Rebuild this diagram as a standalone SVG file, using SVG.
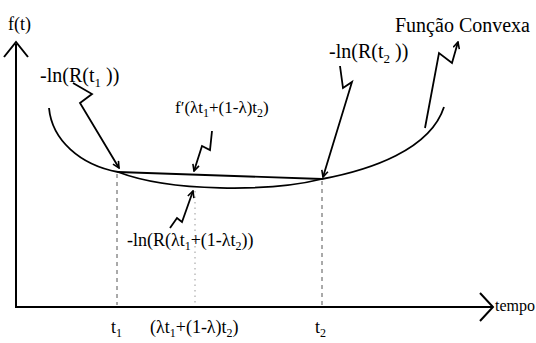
<svg xmlns="http://www.w3.org/2000/svg" width="536" height="343" viewBox="0 0 536 343">
  <defs>
    <marker id="ah" viewBox="0 0 10 10" refX="9" refY="5" markerWidth="8" markerHeight="8" orient="auto" markerUnits="userSpaceOnUse">
      <path d="M1,1 L9,5 L1,9" fill="none" stroke="#000" stroke-width="2"/>
    </marker>
  </defs>
  <style>
    .txt { font-family: "Liberation Serif", "Times New Roman", serif; fill: #000; }
    .ln { fill: none; stroke: #000; stroke-width: 1.8; stroke-linejoin: miter; }
    .axis { fill: none; stroke: #000; stroke-width: 2; }
    .dash { fill: none; stroke: #555; stroke-width: 1; stroke-dasharray: 4 4; }
    .dot { fill: none; stroke: #999; stroke-width: 1; stroke-dasharray: 1.5 4; }
  </style>
  <rect width="536" height="343" fill="#fff"/>

  <g id="axes">
    <path class="axis" d="M16,44 V307 H492"/>
    <path class="axis" d="M4,57 L16,42 L28,57"/>
    <path class="axis" d="M480,293 L493,307 L480,321"/>
    <text class="txt" x="8" y="30" font-size="18">f(t)</text>
    <text class="txt" x="495" y="311" font-size="16">tempo</text>
  </g>

  <g id="curve">
    <path class="ln" d="M49,108 C52,140 80,165 118,172 C170,192 270,192 322,179 C370,170 430,150 444,107"/>
    <path class="ln" d="M118,172 L322,179" stroke-width="2"/>
  </g>

  <g id="guides">
    <path class="dash" d="M117,174 V305"/>
    <path class="dash" d="M322,181 V305"/>
    <path class="dot" d="M195,191 V305"/>
  </g>

  <g id="labels-axis">
    <text class="txt" x="111" y="333" font-size="18">t<tspan font-size="12" dy="4">1</tspan></text>
    <text class="txt" x="150" y="333" font-size="18">(λt<tspan font-size="12" dy="4">1</tspan><tspan dy="-4">+(1-λ)t</tspan><tspan font-size="12" dy="4">2</tspan><tspan dy="-4">)</tspan></text>
    <text class="txt" x="315" y="333" font-size="18">t<tspan font-size="12" dy="4">2</tspan></text>
  </g>

  <g id="label-t1">
    <text class="txt" x="40" y="82" font-size="20">-ln(R(t<tspan font-size="13" dy="5">1</tspan><tspan x="106" dy="-5">))</tspan></text>
  </g>
  <g id="label-t2">
    <text class="txt" x="329" y="58" font-size="20">-ln(R(t<tspan font-size="13" dy="5">2</tspan><tspan x="395" dy="-5">))</tspan></text>
  </g>
  <g id="label-convexa">
    <text class="txt" x="395" y="32" font-size="20">Função Convexa</text>
  </g>
  <g id="label-derivada">
    <text class="txt" x="175" y="113" font-size="17">f′(λt<tspan font-size="12" dy="4">1</tspan><tspan dy="-4">+(1-λ)t</tspan><tspan font-size="12" dy="4">2</tspan><tspan dy="-4">)</tspan></text>
  </g>
  <g id="label-medio">
    <text class="txt" x="127" y="246" font-size="18">-ln(R(λt<tspan font-size="12" dy="4">1</tspan><tspan dy="-4">+(1-λt</tspan><tspan font-size="12" dy="4">2</tspan><tspan dy="-4">))</tspan></text>
  </g>

  <g id="connectors">
    <path class="ln" d="M73,83 L92,94 L80,103 L119,168" marker-end="url(#ah)"/>
    <path class="ln" d="M340,66 L343,88 L352,82 L323,177" marker-end="url(#ah)"/>
    <path class="ln" d="M212,131 L210,150 L202,146 L194,171" marker-end="url(#ah)"/>
    <path class="ln" d="M170,228 L177,218 L182,222 L193,191" marker-end="url(#ah)"/>
    <path class="ln" d="M425,128 L439,53 L452,63 L458,42" marker-end="url(#ah)"/>
  </g>
</svg>
